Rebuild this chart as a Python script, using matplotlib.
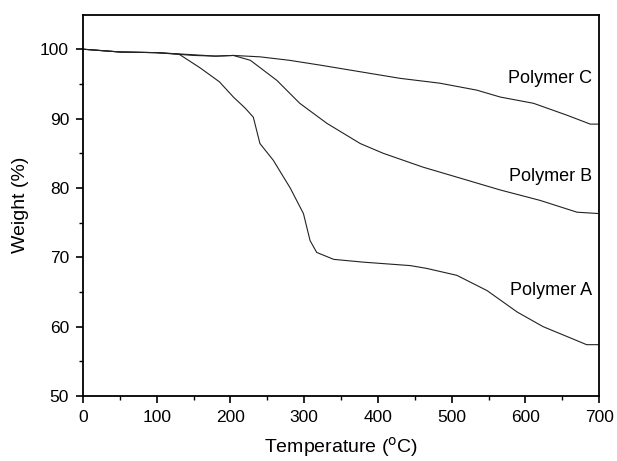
import numpy as np
import matplotlib.pyplot as plt

plt.rcParams['font.family'] = ['Liberation Sans', 'DejaVu Sans']

# Polymer A
temp_a = [0, 50, 100, 130, 159, 185, 204, 220, 231, 240, 258, 281, 299, 308, 317, 340,
          380, 444, 466, 507, 548, 589, 624, 665, 683, 700]
weight_a = [100, 99.6, 99.5, 99.3, 97.3, 95.3, 93.1, 91.5, 90.2, 86.4, 84.0, 80.0, 76.3,
            72.4, 70.7, 69.7, 69.3, 68.8, 68.4, 67.4, 65.2, 62.1, 60.0, 58.2, 57.4, 57.4]

# Polymer B
temp_b = [0, 50, 100, 150, 180, 204, 227, 263, 294, 322, 331, 376, 407, 461, 512, 566,
          620, 670, 700]
weight_b = [100, 99.6, 99.5, 99.1, 99.0, 99.1, 98.4, 95.5, 92.2, 90.0, 89.3, 86.4, 85.0,
            83.0, 81.4, 79.7, 78.2, 76.5, 76.3]

# Polymer C
temp_c = [0, 50, 100, 150, 180, 204, 240, 280, 322, 339, 430, 484, 534, 566, 611, 656,
          688, 700]
weight_c = [100, 99.6, 99.5, 99.2, 99.0, 99.1, 98.9, 98.4, 97.7, 97.4, 95.8, 95.1, 94.1,
            93.1, 92.2, 90.5, 89.2, 89.2]

labels = ['Polymer A', 'Polymer B', 'Polymer C']
label_y = [65.2, 81.7, 95.8]

fig = plt.figure(figsize=(6.17, 4.61), dpi=100)
ax = fig.add_axes([0.1345, 0.141, 0.8365, 0.8275])

for t, w in [(temp_a, weight_a), (temp_b, weight_b), (temp_c, weight_c)]:
    ax.plot(t, w, color='#222222', linewidth=0.8)

for name, y in zip(labels, label_y):
    ax.text(690, y, name, ha='right', va='center', fontsize=13)

ax.set_xlim(0, 700)
ax.set_ylim(50, 105)
ax.set_xticks(np.arange(0, 701, 100))
ax.set_xticks(np.arange(50, 700, 100), minor=True)
ax.set_yticks(np.arange(50, 101, 10))
ax.set_yticks(np.arange(55, 105, 10), minor=True)
ax.tick_params(axis='both', which='major', direction='out', length=5, width=1.2,
               labelsize=12.5, pad=5)
ax.tick_params(axis='both', which='minor', direction='out', length=3, width=1.0)
for s in ax.spines.values():
    s.set_linewidth(1.3)

ax.set_xlabel(r'Temperature ($^{\rm o}$C)', fontsize=14, labelpad=7)
ax.set_ylabel('Weight (%)', fontsize=14, labelpad=8)

fig.savefig('out.png', dpi=100)
